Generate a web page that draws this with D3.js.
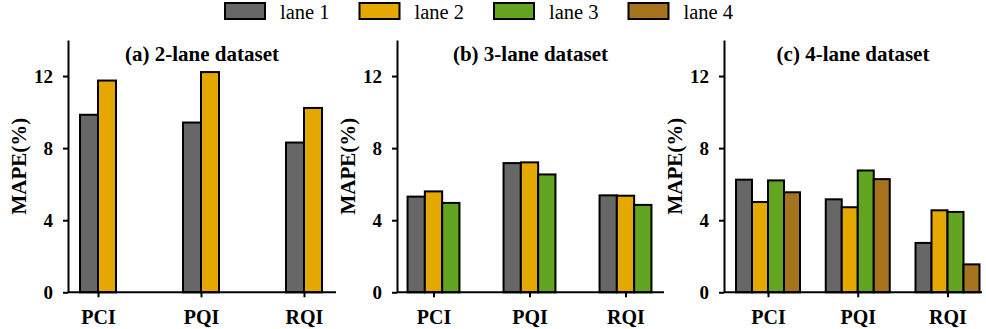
<!DOCTYPE html>
<html>
<head>
<meta charset="utf-8">
<script src="https://d3js.org/d3.v7.min.js"></script>
<style>
  body { margin: 0; background: #fff; }
  text { font-family: "Liberation Serif", "Times New Roman", serif; }
</style>
</head>
<body>
<script>
// data
const categories = ["PCI", "PQI", "RQI"];
const lanes = ["lane 1", "lane 2", "lane 3", "lane 4"];
const yTicks = [0, 4, 8, 12];
const titles = ["(a) 2-lane dataset", "(b) 3-lane dataset", "(c) 4-lane dataset"];

// values per category, one entry per lane
const twoLane = [[9.85, 11.75], [9.42, 12.22], [8.31, 10.23]];
const threeLane = [[5.31, 5.60, 4.96], [7.17, 7.21, 6.54], [5.38, 5.36, 4.85]];
const fourLane = [[6.25, 5.01, 6.21, 5.55], [5.16, 4.72, 6.76, 6.28], [2.74, 4.55, 4.46, 1.55]];

const datasets = [twoLane, threeLane, fourLane];

const colors = ["#676767", "#E5A800", "#63A520", "#A6731E"];

const W = 986, H = 329;
const svg = d3.select("body").append("svg").attr("width", W).attr("height", H);

// layout of the three panels
const panels = [
  {x0: 68, x1: 336, c0: 98, c1: 304, bw: 18},
  {x0: 397, x1: 664, c0: 433.5, c1: 625.5, bw: 17.3},
  {x0: 724, x1: 982, c0: 768, c1: 947.5, bw: 16}
];
const yTop = 40, yBase = 292.3;

const y = d3.scaleLinear().domain([0, 14]).range([yBase, yTop]);

panels.forEach((p, i) => {
  const data = datasets[i];
  const nLanes = data[0].length;
  const x = d3.scalePoint().domain(categories).range([p.c0, p.c1]);
  const g = svg.append("g");

  // bars
  const groups = g.selectAll(".grp").data(data).enter().append("g")
    .attr("transform", (d, k) => `translate(${x(categories[k]) - p.bw * nLanes / 2},0)`);
  groups.selectAll("rect").data(d => d).enter().append("rect")
    .attr("x", (d, j) => j * p.bw)
    .attr("y", d => y(d))
    .attr("width", p.bw)
    .attr("height", d => yBase - y(d))
    .attr("fill", (d, j) => colors[j])
    .attr("stroke", "#000")
    .attr("stroke-width", 2);

  // y axis
  const ya = g.append("g")
    .attr("transform", `translate(${p.x0},0)`)
    .call(d3.axisLeft(y).tickValues(yTicks).tickSize(5).tickSizeOuter(0).tickPadding(10));
  ya.select(".domain").attr("stroke-width", 2);
  ya.selectAll(".tick line").attr("stroke-width", 2);
  ya.selectAll(".tick text")
    .attr("font-family", "Liberation Serif, serif")
    .attr("font-size", 19).attr("font-weight", "bold").attr("fill", "#000");

  // x axis
  const xa = g.append("g")
    .attr("transform", `translate(0,${yBase})`)
    .call(d3.axisBottom(x).tickSize(5).tickSizeOuter(0).tickPadding(13));
  xa.select(".domain").attr("d", `M${p.x0},0H${p.x1}`).attr("stroke-width", 2);
  xa.selectAll(".tick line").attr("stroke-width", 2);
  xa.selectAll(".tick text")
    .attr("font-family", "Liberation Serif, serif")
    .attr("font-size", 20).attr("font-weight", "bold").attr("fill", "#000");

  // y label
  g.append("text")
    .attr("transform", `translate(${p.x0 - 42},${(yTop + yBase) / 2}) rotate(-90)`)
    .attr("text-anchor", "middle")
    .attr("font-size", 21).attr("font-weight", "bold").attr("fill", "#000")
    .text("MAPE(%)");

  // title
  g.append("text")
    .attr("x", (p.x0 + p.x1) / 2).attr("y", 61)
    .attr("text-anchor", "middle")
    .attr("font-size", 21).attr("font-weight", "bold").attr("fill", "#000")
    .text(titles[i]);
});

// legend
const legend = svg.append("g").selectAll("g").data(lanes).enter().append("g")
  .attr("transform", (d, i) => `translate(${225 + i * 134.5},0)`);
legend.append("rect")
  .attr("x", 0).attr("y", 3).attr("width", 40).attr("height", 16)
  .attr("fill", (d, i) => colors[i]).attr("stroke", "#000").attr("stroke-width", 2);
legend.append("text")
  .attr("x", 55).attr("y", 18.5)
  .attr("font-size", 20.5).attr("fill", "#000")
  .text(d => d);
</script>
</body>
</html>
